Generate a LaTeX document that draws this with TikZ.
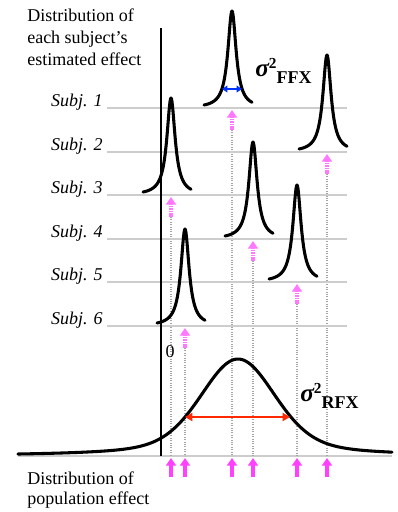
\documentclass[tikz,border=0pt]{standalone}
\usepackage{fontspec}
\setmainfont{Liberation Serif}
\usepackage{tikz}
\usetikzlibrary{
  arrows.meta,
  positioning
}
\definecolor{ArrowPink}{RGB}{255, 64, 255}
\definecolor{HatchPink}{RGB}{255, 120, 255}
\definecolor{GridGray}{RGB}{205, 205, 205}
\definecolor{DotGray}{RGB}{165, 165, 165}
\definecolor{FFXBlue}{RGB}{0, 50, 255}
\definecolor{RFXRed}{RGB}{255, 40, 0}
\newcommand{\vartext}[1]{{\fontsize{19}{19}\selectfont\bfseries\itshape σ}\raisebox{5.5pt}{\fontsize{11.5}{11.5}\selectfont\bfseries 2}\raisebox{-5.5pt}{\fontsize{13.5}{13.5}\selectfont\bfseries #1}}
\tikzset{
  caption text/.style={font=\fontsize{13.5}{16.2}\selectfont, inner sep=0pt, align=left, anchor=north west},
  subj label/.style={font=\fontsize{13.5}{16}\selectfont\itshape, inner sep=0pt, anchor=base east},
  density/.style={line width=2.3pt, line join=round, line cap=round},
  guide/.style={GridGray, line width=0.8pt},
  drop line/.style={DotGray, densely dotted, line width=0.8pt},
  pop arrow/.style={ArrowPink, line width=2.4pt, -{Triangle[width=7.5pt, length=5.8pt]}},
  est arrow/.style={HatchPink, line width=2.4pt, dash pattern=on 1.2pt off 0.6pt, -{Triangle[width=7.5pt, length=5.8pt]}},
  var label/.style={inner sep=0pt, anchor=base west},
}

\begin{document}
\begin{tikzpicture}[x=0.75pt, y=-0.75pt,
    declare function={
      est(\t)=97/(1+(\t/5)*(\t/5));
      pop(\t)=97*(0.65*exp(-0.5*(\t/36)*(\t/36))+0.35/(1+(\t/55)*(\t/55)));
    }]
  \useasboundingbox (0,0) rectangle (398,512);

  \coordinate (axisTop) at (161,28);
  \coordinate (axisBot) at (161,456);
  \coordinate (baseL) at (18,456);
  \coordinate (baseR) at (392,456);
  \draw[guide] (baseL) -- (baseR);

  \foreach \i/\px/\py in {1/232/108, 2/327/152, 3/171/195, 4/253/239, 5/297/282, 6/185/326} {
    \coordinate (gridL\i) at (107,\py);
    \coordinate (gridR\i) at (347,\py);
    \coordinate (estTip\i) at (\px,\py+2);
    \coordinate (estTail\i) at (\px,\py+22);
    \coordinate (dropEnd\i) at (\px,456);
    \coordinate (popTip\i) at (\px,458);
    \coordinate (popTail\i) at (\px,477);
    \draw[guide] (gridL\i) -- (gridR\i);
    \draw[drop line] (estTail\i) -- (dropEnd\i);
  }

  \draw[line width=1.1pt] (axisTop) -- (axisBot);

  \foreach \i/\px/\py in {1/232/108, 2/327/152, 3/171/195, 4/253/239, 5/297/282, 6/185/326} {
    \node[subj label] (subj\i) at (103,\py-2) {Subj. \i};
    \draw[density] plot[domain=-28:20, samples=97] ({\px+\x}, {\py-est(\x)});
    \draw[est arrow] (estTail\i) -- (estTip\i);
    \draw[pop arrow] (popTail\i) -- (popTip\i);
  }

  \draw[density] plot[domain=18:392, samples=160] (\x, {456-pop(\x-238)});

  \coordinate (ffxL) at (222,89);
  \coordinate (ffxR) at (242,89);
  \draw[FFXBlue, line width=1.6pt, {Triangle[width=5pt, length=4pt]}-{Triangle[width=5pt, length=4pt]}] (ffxL) -- (ffxR);
  \coordinate (rfxL) at (185,417);
  \coordinate (rfxR) at (290,417);
  \draw[RFXRed, line width=1.8pt, {Triangle[width=6pt, length=5.5pt]}-{Triangle[width=6pt, length=5.5pt]}] (rfxL) -- (rfxR);

  \node[var label] (ffx) at (255,76) {\vartext{FFX}};
  \node[var label] (rfx) at (300,401) {\vartext{RFX}};
  \node[font=\fontsize{13.5}{16}\selectfont, inner sep=0pt] (zero) at (170,352) {0};

  \node[caption text] (topText) at (27,9) {Distribution of\\each subject’s\\estimated effect};
  \node[caption text, font=\fontsize{13.5}{14.5}\selectfont] (bottomText) at (27,472) {Distribution of\\population effect};
\end{tikzpicture}
\end{document}
